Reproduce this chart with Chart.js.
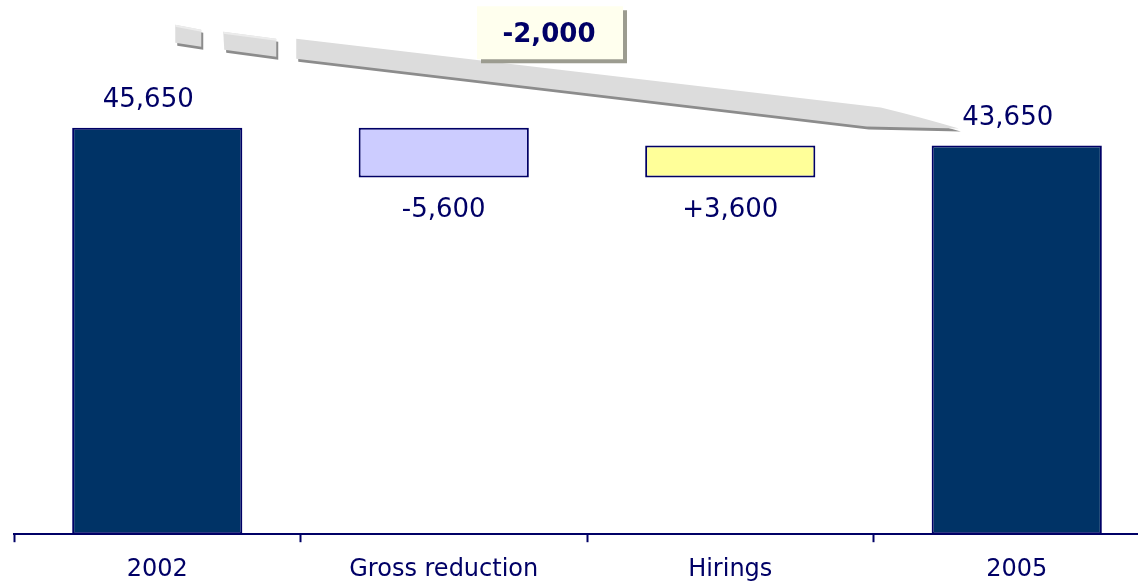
<!DOCTYPE html>
<html>
<head>
<meta charset="utf-8">
<title>Headcount bridge 2002-2005</title>
<script src="https://cdn.jsdelivr.net/npm/chart.js@4/dist/chart.umd.min.js"></script>
<style>
  html, body { margin: 0; padding: 0; background: #fff; overflow: hidden; }
  #wrap { width: 1160px; height: 582px; }
</style>
</head>
<body>
<div id="wrap"><canvas id="bridge" width="1160" height="582"></canvas></div>
<script>
// Bridge steps: opening total, movements, closing total
const categories = ['2002', 'Gross reduction', 'Hirings', '2005'];
const stepValues = [45650, -5600, 3600, 43650];
const stepKinds = ['total', 'change', 'change', 'total'];

const NAVY = '#000066';
const fillColors = ['#003366', '#CCCCFF', '#FFFF99', '#003366'];

// Floating ranges built from the running total
const ranges = [];
let running = 0;
stepValues.forEach((v, i) => {
  if (stepKinds[i] === 'total') {
    ranges.push([0, v]);
    running = v;
  } else {
    ranges.push([running, running + v]);
    running += v;
  }
});

const fmt = (v, signed) => (signed && v > 0 ? '+' : '') + v.toLocaleString('en-US');
const netChange = stepValues[3] - stepValues[0];

// Value labels: above the totals, below the movements
const valueLabels = {
  id: 'valueLabels',
  afterDatasetsDraw(chart) {
    const ctx = chart.ctx;
    const meta = chart.getDatasetMeta(0);
    ctx.save();
    ctx.font = '26px "DejaVu Sans"';
    ctx.fillStyle = NAVY;
    ctx.textAlign = 'center';
    ctx.textBaseline = 'alphabetic';
    meta.data.forEach((bar, i) => {
      const top = Math.min(bar.y, bar.base);
      const bottom = Math.max(bar.y, bar.base);
      if (stepKinds[i] === 'total') {
        ctx.fillText(fmt(stepValues[i], false), bar.x - 9, top - 21);
      } else {
        ctx.fillText(fmt(stepValues[i], true), bar.x, bottom + 39);
      }
    });
    ctx.restore();
  }
};

// Grey arrow from the opening total to the closing total, with the net change box
const netArrow = {
  id: 'netArrow',
  afterDatasetsDraw(chart) {
    const ctx = chart.ctx;
    const xs = chart.scales.x, ys = chart.scales.y;
    const ax = xs.getPixelForValue(0), ay = ys.getPixelForValue(stepValues[0]);
    const bx = xs.getPixelForValue(3), by = ys.getPixelForValue(stepValues[3]);

    const shapes = [
      [[ax + 18, ay - 103], [ax + 44, ay - 98], [ax + 44, ay - 81], [ax + 18, ay - 85]],
      [[ax + 66, ay - 96], [ax + 119, ay - 89], [ax + 119, ay - 71], [ax + 67, ay - 78]]
    ];

    const band = (dx, dy) => {
      ctx.beginPath();
      ctx.moveTo(ax + 139 + dx, ay - 89 + dy);
      ctx.lineTo(bx - 136 + dx, by - 38 + dy);
      ctx.quadraticCurveTo(bx - 95 + dx, by - 28 + dy, bx - 58 + dx, by - 17 + dy);
      ctx.lineTo(bx - 150 + dx, by - 19 + dy);
      ctx.lineTo(ax + 139 + dx, ay - 69 + dy);
      ctx.closePath();
      ctx.fill();
    };
    const quad = (pts, dx, dy) => {
      ctx.beginPath();
      pts.forEach((p, k) => k ? ctx.lineTo(p[0] + dx, p[1] + dy) : ctx.moveTo(p[0] + dx, p[1] + dy));
      ctx.closePath();
      ctx.fill();
    };

    ctx.save();
    ctx.fillStyle = '#8c8c8c';
    shapes.forEach(s => quad(s, 2, 3));
    band(2, 3);
    ctx.fillStyle = '#dcdcdc';
    shapes.forEach(s => quad(s, 0, 0));
    band(0, 0);
    ctx.fillStyle = '#ececec';
    shapes.forEach(s => quad([s[0], s[1], [s[1][0], s[1][1] + 2], [s[0][0], s[0][1] + 2]], 0, 0));

    // Net change box
    const cx = xs.getPixelForValue(1.5) - 37;
    const cy = ay - 95;
    const w = 146, h = 53;
    ctx.fillStyle = '#9c9c90';
    ctx.fillRect(cx - w / 2 + 4, cy - h / 2 + 4, w, h);
    ctx.fillStyle = '#FFFFEE';
    ctx.fillRect(cx - w / 2, cy - h / 2, w, h);
    ctx.font = 'bold 26px "DejaVu Sans"';
    ctx.fillStyle = NAVY;
    ctx.textAlign = 'center';
    ctx.textBaseline = 'middle';
    ctx.fillText(fmt(netChange, false), cx - 1, cy + 2);
    ctx.restore();
  }
};

new Chart(document.getElementById('bridge'), {
  type: 'bar',
  data: {
    labels: categories,
    datasets: [{
      data: ranges,
      backgroundColor: fillColors,
      borderColor: NAVY,
      borderWidth: 2,
      borderSkipped: false,
      categoryPercentage: 1,
      barPercentage: 0.594
    }]
  },
  options: {
    responsive: false,
    animation: false,
    layout: { padding: { left: 14, right: 0, top: 0, bottom: -15 } },
    plugins: {
      legend: { display: false },
      tooltip: { enabled: false }
    },
    scales: {
      x: {
        border: { color: NAVY, width: 2 },
        grid: {
          display: true,
          drawOnChartArea: false,
          drawTicks: true,
          tickLength: 8,
          tickWidth: 2,
          tickColor: NAVY,
          offset: true
        },
        ticks: {
          color: NAVY,
          padding: 13,
          font: { family: '"DejaVu Sans"', size: 24 }
        }
      },
      y: {
        display: false,
        min: 0,
        max: 60000
      }
    }
  },
  plugins: [valueLabels, netArrow]
});
</script>
</body>
</html>
